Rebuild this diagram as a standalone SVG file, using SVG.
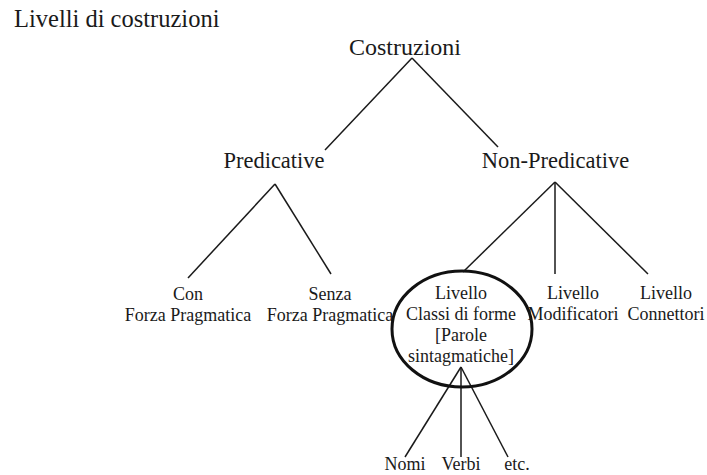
<svg xmlns="http://www.w3.org/2000/svg" width="707" height="475" viewBox="0 0 707 475">
<style>
text{fill:#1a1a1a;text-anchor:middle}
.t{font-size:24.5px;text-anchor:start}
.l1{font-size:24px}
.l2{font-size:22.5px}
.l3{font-size:18px}
.c line{stroke:#1a1a1a;stroke-width:1.5}
</style>
<rect width="707" height="475" fill="#fff"/>
<g font-family="'Liberation Serif', 'Times New Roman', Times, serif">
<text class="t" x="14" y="27">Livelli di costruzioni</text>
<g class="c" id="connectors">
<line x1="412" y1="58" x2="325" y2="150"/>
<line x1="412" y1="58" x2="498" y2="147"/>
<line x1="275" y1="184" x2="188" y2="278"/>
<line x1="275" y1="184" x2="331" y2="274"/>
<line x1="555" y1="182" x2="463" y2="272"/>
<line x1="555" y1="182" x2="555" y2="274"/>
<line x1="555" y1="182" x2="648" y2="274"/>
<line x1="461" y1="367" x2="405" y2="457"/>
<line x1="461" y1="367" x2="461" y2="457"/>
<line x1="461" y1="367" x2="508" y2="457"/>
</g>
<g id="costruzioni"><text class="l1" x="405" y="55">Costruzioni</text></g>
<g id="predicative"><text class="l2" x="274" y="168">Predicative</text></g>
<g id="non-predicative"><text class="l2" x="555.5" y="168">Non-Predicative</text></g>
<g id="con"><text class="l3" x="188" y="300">Con</text><text class="l3" x="188" y="321">Forza Pragmatica</text></g>
<g id="senza"><text class="l3" x="330" y="300">Senza</text><text class="l3" x="330" y="321">Forza Pragmatica</text></g>
<g id="classi">
<ellipse cx="462" cy="329" rx="70" ry="58" fill="none" stroke="#111" stroke-width="3"/>
<text class="l3" x="461" y="299">Livello</text>
<text class="l3" x="461" y="320">Classi di forme</text>
<text class="l3" x="461" y="341">[Parole</text>
<text class="l3" x="461" y="362">sintagmatiche]</text>
</g>
<g id="modificatori"><text class="l3" x="573" y="299">Livello</text><text class="l3" x="573" y="320">Modificatori</text></g>
<g id="connettori"><text class="l3" x="666" y="299">Livello</text><text class="l3" x="666" y="320">Connettori</text></g>
<g id="nomi"><text class="l3" x="405" y="470">Nomi</text></g>
<g id="verbi"><text class="l3" x="461" y="470">Verbi</text></g>
<g id="etc"><text class="l3" x="517" y="470">etc.</text></g>
</g>
</svg>
